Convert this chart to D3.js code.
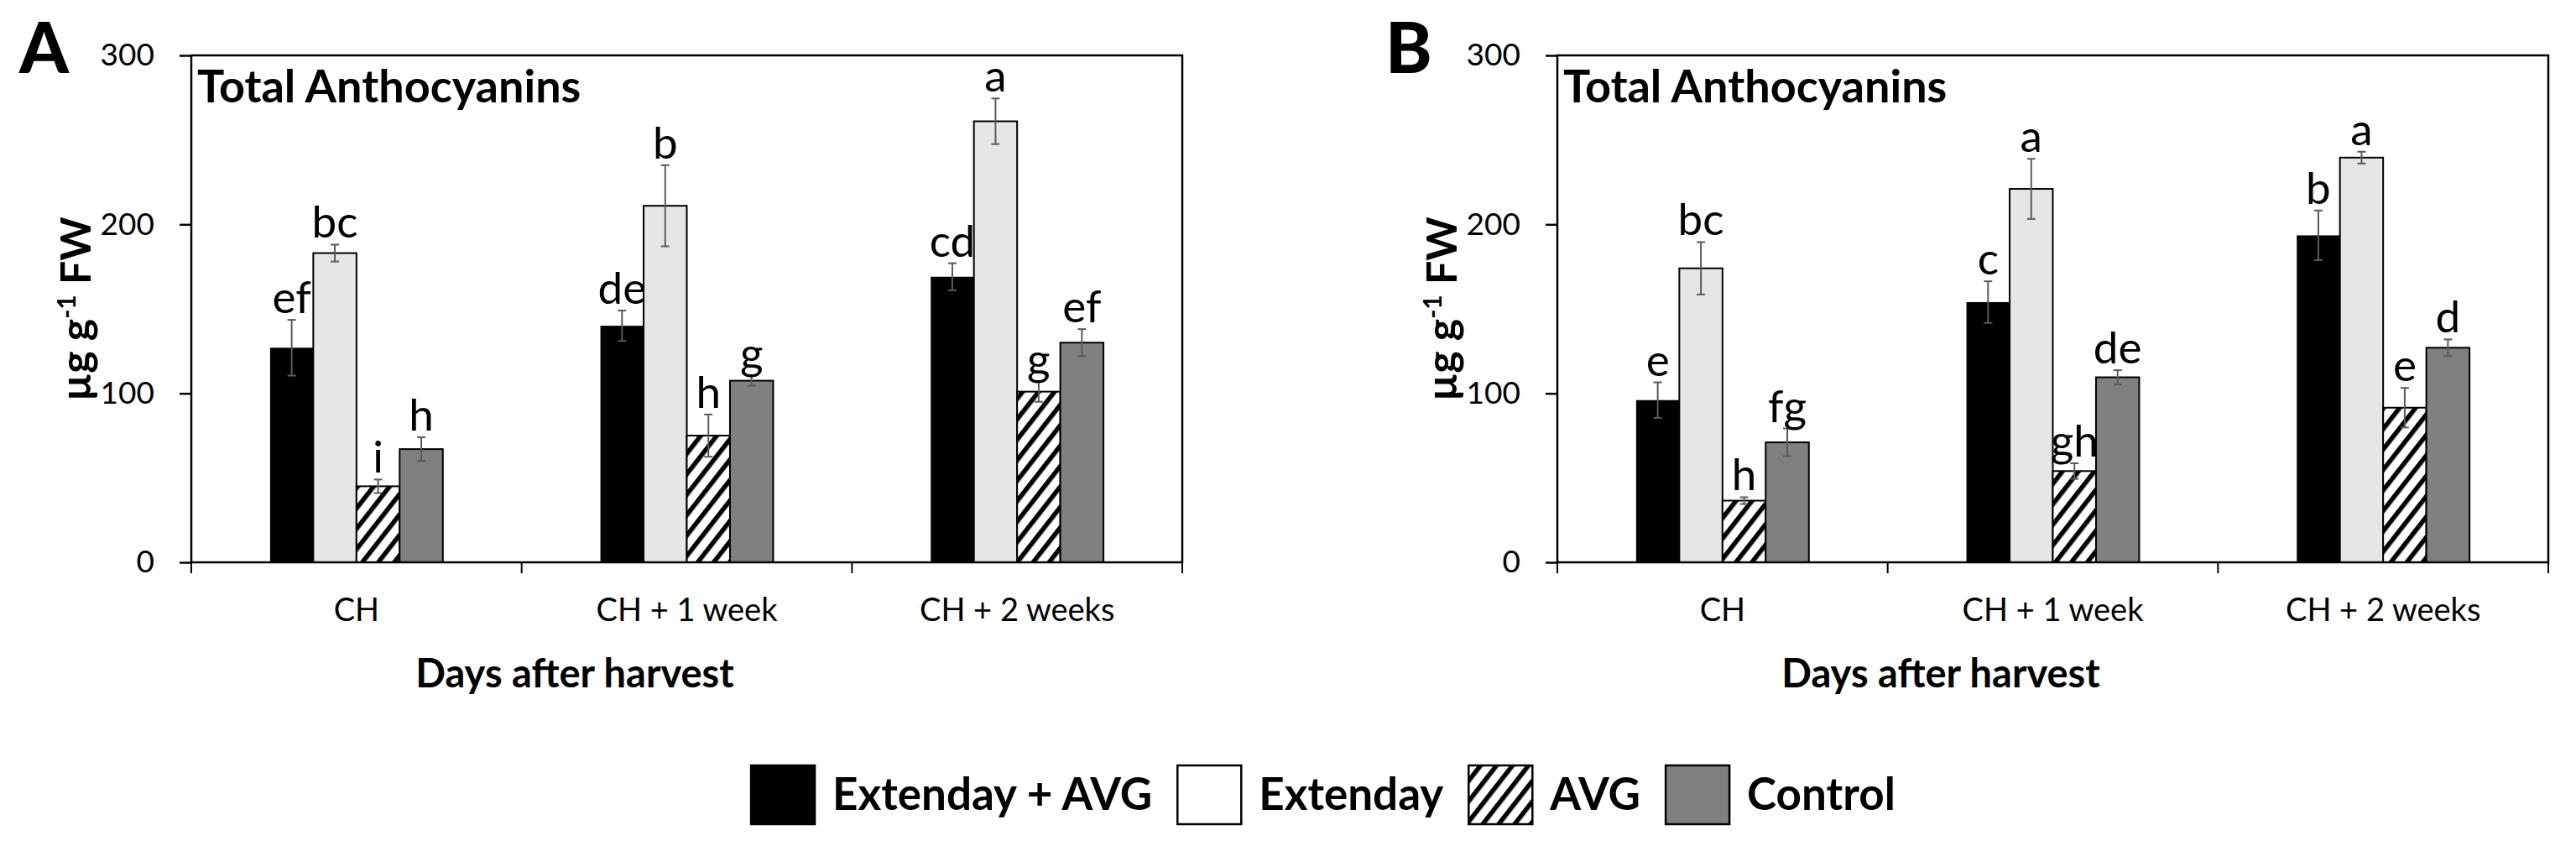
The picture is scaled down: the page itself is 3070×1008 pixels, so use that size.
<!DOCTYPE html>
<html>
<head>
<meta charset="utf-8">
<script src="https://cdn.jsdelivr.net/npm/d3@7"></script>
<style>
  html,body{margin:0;padding:0;background:#fff;}
  svg{display:block;}
  text{font-family:Lato,"Open Sans",sans-serif;fill:#000;}
</style>
</head>
<body>
<svg id="chart" width="3070" height="1008"></svg>
<script>
// ---------- data ----------
const categories = ["CH", "CH + 1 week", "CH + 2 weeks"];
const seriesNames = ["Extenday + AVG", "Extenday", "AVG", "Control"];
const yTicks = [0, 100, 200, 300];

// Panel A
const aExtAvg = [127, 140, 169];
const aExt    = [183, 211, 261];
const aAvg    = [45, 75, 101];
const aCtrl   = [67, 107.5, 130];
const aExtAvgErr = [16.5, 9, 8];
const aExtErr    = [5, 24, 13.5];
const aAvgErr    = [4, 12.5, 6];
const aCtrlErr   = [7, 3, 8];
const aExtAvgLbl = ["ef", "de", "cd"];
const aExtLbl    = ["bc", "b", "a"];
const aAvgLbl    = ["i", "h", "g"];
const aCtrlLbl   = ["h", "g", "ef"];

// Panel B
const bExtAvg = [96, 154, 193.5];
const bExt    = [174, 221, 239.5];
const bAvg    = [36.5, 54, 91.5];
const bCtrl   = [71, 109.5, 127];
const bExtAvgErr = [10.5, 12.3, 14.7];
const bExtErr    = [15.5, 17.8, 3.5];
const bAvgErr    = [2, 4.6, 11.7];
const bCtrlErr   = [8.2, 4.2, 4.9];
const bExtAvgLbl = ["e", "c", "b"];
const bExtLbl    = ["bc", "a", "a"];
const bAvgLbl    = ["h", "gh", "e"];
const bCtrlLbl   = ["fg", "de", "d"];

const panelTitle = "Total Anthocyanins";
const xTitle = "Days after harvest";

// ---------- layout ----------
const svg = d3.select("#chart");
const plotTop = 66, plotBottom = 670, plotW = 1181;

const defs = svg.append("defs");
const pat = defs.append("pattern")
  .attr("id", "hatch").attr("patternUnits", "userSpaceOnUse")
  .attr("width", 15).attr("height", 15)
  .attr("patternTransform", "rotate(38)");
pat.append("rect").attr("width", 15).attr("height", 15).attr("fill", "#fff");
pat.append("rect").attr("x", 0).attr("y", 0).attr("width", 5.5).attr("height", 15).attr("fill", "#000");

const fills = ["#000000", "#e6e6e6", "url(#hatch)", "#808080"];
const legendFills = ["#000000", "#ffffff", "url(#hatch)", "#808080"];

const y = d3.scaleLinear().domain([0, 300]).range([plotBottom, plotTop]);

function drawPanel(letter, left, vals, errs, lbls) {
  const g = svg.append("g");
  const x0 = d3.scaleBand().domain(categories).range([left, left + plotW]).paddingInner(0).paddingOuter(0);
  const groupW = x0.bandwidth() * 0.523;
  const x1 = d3.scaleBand().domain(seriesNames).range([0, groupW]);

  // bars
  seriesNames.forEach((s, si) => {
    const rows = categories.map((c, ci) => ({c, v: vals[si][ci], e: errs[si][ci], l: lbls[si][ci]}));
    const xb = d => x0(d.c) + x0.bandwidth() / 2 - groupW / 2 + x1(s);
    g.selectAll(null).data(rows).join("rect")
      .attr("x", xb).attr("y", d => y(d.v))
      .attr("width", x1.bandwidth()).attr("height", d => y(0) - y(d.v))
      .attr("fill", fills[si])
      .attr("stroke", "#000").attr("stroke-width", si === 0 ? 0 : 2);
    // error bars
    const cx = d => xb(d) + x1.bandwidth() / 2;
    g.selectAll(null).data(rows).join("line")
      .attr("x1", cx).attr("x2", cx)
      .attr("y1", d => y(d.v + d.e)).attr("y2", d => y(d.v - d.e))
      .attr("stroke", "#5a5a5a").attr("stroke-width", 2);
    ["+", "-"].forEach(sign => {
      g.selectAll(null).data(rows).join("line")
        .attr("x1", d => cx(d) - 5).attr("x2", d => cx(d) + 5)
        .attr("y1", d => y(sign === "+" ? d.v + d.e : d.v - d.e))
        .attr("y2", d => y(sign === "+" ? d.v + d.e : d.v - d.e))
        .attr("stroke", "#5a5a5a").attr("stroke-width", 2);
    });
    // letters
    g.selectAll(null).data(rows).join("text")
      .attr("x", cx).attr("y", d => y(d.v + d.e) - 8)
      .attr("text-anchor", "middle")
      .style("font-size", "53px")
      .text(d => d.l);
  });

  // frame
  g.append("rect").attr("x", left).attr("y", plotTop)
    .attr("width", plotW).attr("height", plotBottom - plotTop)
    .attr("fill", "none").attr("stroke", "#000").attr("stroke-width", 2.5);

  // y axis
  const ya = g.append("g").attr("transform", `translate(${left},0)`)
    .call(d3.axisLeft(y).tickValues(yTicks).tickSizeInner(14).tickSizeOuter(0).tickPadding(30));
  ya.select(".domain").remove();
  ya.selectAll(".tick line").attr("stroke", "#000").attr("stroke-width", 2.5);
  ya.selectAll(".tick text").style("font-size", "37px").style("font-family", "Lato").attr("fill", "#000");

  // x axis: labels at band centres, ticks at band edges
  const xa = g.append("g").attr("transform", `translate(0,${plotBottom})`)
    .call(d3.axisBottom(x0).tickSize(0));
  xa.select(".domain").remove();
  xa.selectAll(".tick text").attr("y", 70).attr("dy", 0)
    .style("font-size", "38px").style("font-family", "Lato").attr("fill", "#000");
  const edges = categories.map(c => x0(c)).concat([x0.range()[1]]);
  g.selectAll(null).data(edges).join("line")
    .attr("x1", d => d).attr("x2", d => d)
    .attr("y1", plotBottom).attr("y2", plotBottom + 13)
    .attr("stroke", "#000").attr("stroke-width", 2);

  // titles
  g.append("text").attr("x", left + 7).attr("y", 122)
    .style("font-size", "54px").style("font-weight", 700).text(panelTitle);
  g.append("text").attr("x", left + 457).attr("y", 819).attr("text-anchor", "middle")
    .style("font-size", "47px").style("font-weight", 700).text(xTitle);
  const yt = g.append("text")
    .attr("transform", `translate(${left - 120},${(plotTop + plotBottom) / 2}) rotate(-90)`)
    .attr("text-anchor", "middle")
    .style("font-size", "50px").style("font-weight", 700);
  yt.append("tspan").text("µg g");
  yt.append("tspan").attr("dy", -18).style("font-size", "30px").text("-1");
  yt.append("tspan").attr("dy", 18).text(" FW");

  // panel letter
  g.append("text").attr("x", left - 205).attr("y", 87)
    .style("font-size", "84px").style("font-weight", 900).text(letter);
}

drawPanel("A", 228,
  [aExtAvg, aExt, aAvg, aCtrl],
  [aExtAvgErr, aExtErr, aAvgErr, aCtrlErr],
  [aExtAvgLbl, aExtLbl, aAvgLbl, aCtrlLbl]);
drawPanel("B", 1856,
  [bExtAvg, bExt, bAvg, bCtrl],
  [bExtAvgErr, bExtErr, bAvgErr, bCtrlErr],
  [bExtAvgLbl, bExtLbl, bAvgLbl, bCtrlLbl]);

// ---------- legend ----------
const leg = svg.append("g");
const swW = 76, swH = 70, swY = 912, gapSwText = 21, gapItems = 30;
let cursor = 0;
seriesNames.forEach((s, i) => {
  const it = leg.append("g");
  it.append("rect").attr("x", 0).attr("y", swY).attr("width", swW).attr("height", swH)
    .attr("fill", legendFills[i]).attr("stroke", "#000").attr("stroke-width", 2.5);
  const t = it.append("text").attr("x", swW + gapSwText).attr("y", 965)
    .style("font-size", "53px").style("font-weight", 700).text(s);
  const w = swW + gapSwText + t.node().getComputedTextLength();
  it.attr("transform", `translate(${cursor},0)`);
  cursor += w + gapItems;
});
const totalW = cursor - gapItems;
leg.attr("transform", `translate(${1577 - totalW / 2},0)`);
</script>
</body>
</html>
